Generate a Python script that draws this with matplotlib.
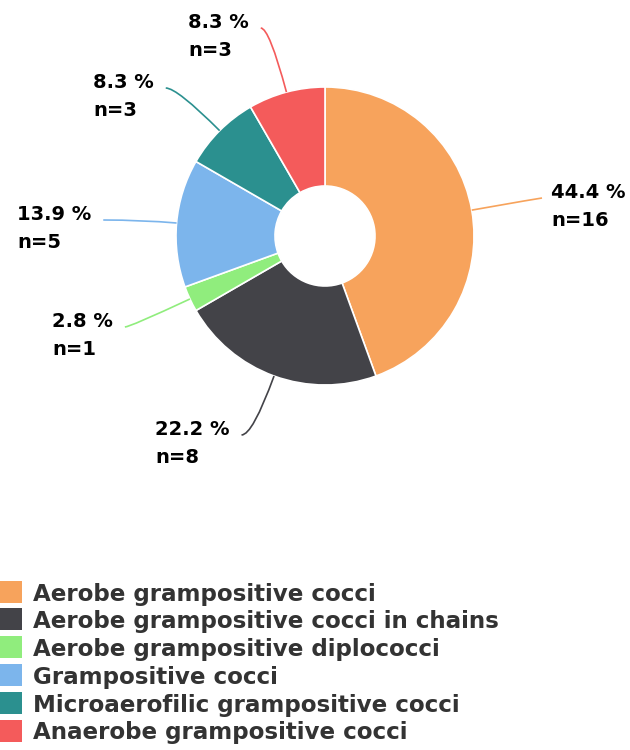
import matplotlib.pyplot as plt
from matplotlib.path import Path
from matplotlib.patches import PathPatch, Rectangle
import numpy as np

# Bacteria groups and isolate counts
categories = ['Aerobe grampositive cocci',
              'Aerobe grampositive cocci in chains',
              'Aerobe grampositive diplococci',
              'Grampositive cocci',
              'Microaerofilic grampositive cocci',
              'Anaerobe grampositive cocci']
counts = [16, 8, 1, 5, 3, 3]
colors = ['#f7a35c', '#434348', '#90ed7d', '#7cb5ec', '#2b908f', '#f45b5b']

# label text anchor (left x, top y of first line) in pixels from top-left
label_pos = [(551, 183), (155, 420), (52, 312), (17, 205), (93, 73), (188, 13)]

W, H = 630, 750
fig = plt.figure(figsize=(W / 100, H / 100), dpi=100)
ax = fig.add_axes([0, 0, 1, 1])
ax.set_xlim(0, W)
ax.set_ylim(0, H)
ax.axis('off')

cx, cy, R, r_in = 325, H - 236, 149, 50

wedges, _ = ax.pie(counts, colors=colors, startangle=90, counterclock=False,
                   radius=R, center=(cx, cy),
                   wedgeprops=dict(width=R - r_in, edgecolor='white', linewidth=1.2))
ax.set_xlim(0, W)
ax.set_ylim(0, H)
ax.set_aspect('equal')

total = sum(counts)
cum = np.cumsum([0] + counts)
for i, w in enumerate(wedges):
    frac = (cum[i] + counts[i] / 2) / total
    ang = np.deg2rad(90 - frac * 360)
    dx, dy = np.cos(ang), np.sin(ang)
    p0 = (cx + R * dx, cy + R * dy)
    tx, ty = label_pos[i]
    ty = H - ty
    pct = '%.1f %%' % (100 * counts[i] / total)
    t1 = ax.text(tx, ty, pct, fontsize=14, fontweight='bold', color='#000000',
                 ha='left', va='top')
    ax.text(tx, ty - 28, 'n=%d' % counts[i], fontsize=14, fontweight='bold',
            color='#000000', ha='left', va='top')
    # connector end point beside the label
    ey = ty - 15
    if dx > 0:
        ex = tx - 9
    else:
        fig.canvas.draw()
        bb = t1.get_window_extent()
        ex = bb.x1 + 12
    # radial run up to label height, then hook across
    t = (ey - p0[1]) / dy if abs(dy) > 0.05 else (ex - p0[0]) / dx
    ctrl = (p0[0] + t * dx, p0[1] + t * dy)
    path = Path([p0, ctrl, (ex, ey)], [Path.MOVETO, Path.CURVE3, Path.CURVE3])
    ax.add_patch(PathPatch(path, fill=False, edgecolor=colors[i], linewidth=1.2))

# legend
for i, name in enumerate(categories):
    yc = H - (591.5 + i * 27.8)
    ax.add_patch(Rectangle((0, yc - 11), 22, 22, facecolor=colors[i], edgecolor='none'))
    ax.text(33, yc, name, fontsize=16.6, fontweight='bold', color='#333333',
            ha='left', va='center_baseline')

fig.savefig('out.png', dpi=100)
